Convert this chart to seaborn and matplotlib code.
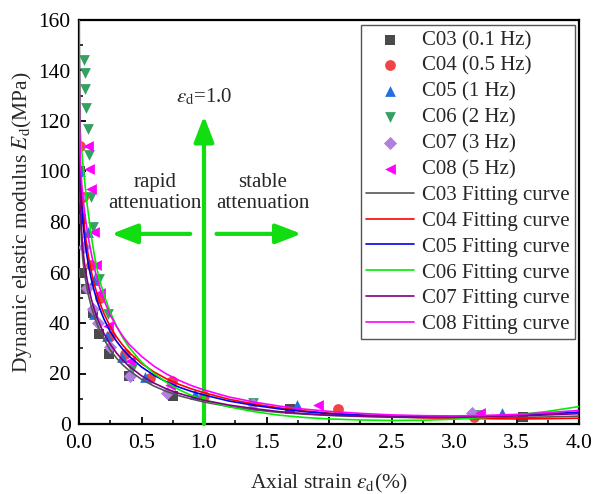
import matplotlib

matplotlib.use("Agg")

import matplotlib.pyplot as plt
import numpy as np
import seaborn as sns

# measured points (axial strain %, dynamic modulus MPa)
c03_x = [0.01, 0.016, 0.02, 0.055, 0.11, 0.16, 0.24, 0.40, 0.75, 1.69, 3.55]
c03_y = [100, 81, 60, 53.5, 44, 35.6, 27.7, 19, 11, 5.9, 2.8]
c04_x = [0.01, 0.03, 0.096, 0.17, 0.25, 0.37, 0.57, 0.74, 1.0, 2.07, 3.16]
c04_y = [110, 90, 63, 50, 35, 27.6, 18.3, 17, 11, 6, 2.8]
c05_x = [0.01, 0.07, 0.12, 0.12, 0.22, 0.34, 0.53, 0.93, 1.74, 3.38]
c05_y = [100, 76, 57, 43.6, 35, 26.7, 18.5, 11.9, 7.5, 4.4]
c06_x = [0.043, 0.045, 0.048, 0.056, 0.07, 0.083, 0.096, 0.11, 0.16, 0.23, 0.42, 1.39, 3.19]
c06_y = [144, 139, 132.5, 125, 117, 106.5, 90, 78, 57.5, 43.6, 21.6, 8.3, 3.5]
c07_x = [0.01, 0.04, 0.06, 0.115, 0.155, 0.25, 0.41, 0.70, 1.39, 3.14]
c07_y = [90, 70, 54, 45.4, 40, 30.5, 19.2, 12.2, 8, 4.4]
c08_x = [0.07, 0.083, 0.096, 0.12, 0.135, 0.17, 0.23, 0.41, 0.73, 1.91, 3.21]
c08_y = [110, 101, 93, 76, 63, 52, 39, 25, 15.4, 7.5, 4.4]

# fitting curves
fit_x = [0, 0.003, 0.006, 0.01, 0.015, 0.02, 0.03, 0.04, 0.05, 0.065, 0.08,
         0.1, 0.125, 0.15, 0.175, 0.2, 0.25, 0.3, 0.35, 0.4, 0.5, 0.6, 0.7,
         0.8, 0.9, 1.0, 1.2, 1.4, 1.6, 1.8, 2.0, 2.25, 2.5, 2.75, 3.0, 3.25,
         3.5, 3.75, 4.0]
fit_c03 = [165, 122, 99, 86, 78.6, 73.3, 65.3, 61.2, 57.8, 53.6, 50.1,
           46.2, 42.2, 38.9, 36.1, 33.6, 29.3, 26.1, 23.4, 21.2, 17.7, 15.0, 12.9,
           11.2, 9.9, 8.7, 6.9, 5.6, 4.6, 3.9, 3.4, 3.0, 2.7, 2.5, 2.4, 2.4,
           2.6, 2.8, 3.1]
fit_c04 = [165, 128, 110, 101, 95.9, 91.6, 84.8, 79.5, 75.1, 69.6, 65.1,
           60.0, 54.8, 50.5, 46.9, 43.7, 38.5, 34.5, 31.2, 28.4, 24.0, 20.6, 17.9,
           15.7, 13.9, 12.4, 9.8, 7.9, 6.4, 5.2, 4.3, 3.5, 2.9, 2.5, 2.3, 2.1,
           2.0, 2.1, 2.3]
fit_c05 = [165, 125, 107, 97, 91.6, 87.5, 80.6, 75.5, 71.3, 66.1, 61.8,
           57.0, 52.1, 48.0, 44.6, 41.5, 36.6, 32.8, 29.6, 26.9, 22.6, 19.3, 16.7,
           14.6, 12.9, 11.5, 9.1, 7.4, 6.0, 4.9, 4.1, 3.5, 3.1, 2.9, 2.9, 3.1,
           3.5, 4.0, 4.7]
fit_c06 = [165, 140, 124, 116, 112, 109, 103.5, 98.6, 93.9, 87.0, 81.4,
           73.8, 66.3, 60.1, 55.3, 51.1, 44.3, 38.8, 34.2, 30.4, 24.5, 20.0, 16.5,
           13.6, 11.3, 9.4, 6.8, 4.9, 3.5, 2.6, 2.0, 1.6, 1.4, 1.5, 1.9, 2.6,
           3.6, 5.0, 6.9]
fit_c07 = [165, 123, 101, 88.9, 82.5, 76.9, 69.5, 65.2, 61.6, 57.1, 53.4,
           49.2, 44.9, 41.4, 38.5, 35.8, 31.6, 28.1, 25.3, 22.9, 19.1, 16.2, 13.9,
           12.1, 10.7, 9.4, 7.5, 6.1, 4.9, 4.1, 3.5, 3.1, 2.8, 2.7, 2.7, 2.9,
           3.2, 3.6, 4.1]
fit_c08 = [165, 132, 115, 106, 101, 96.5, 90.5, 86.0, 82.0, 76.8, 72.3,
           67.2, 61.4, 56.6, 52.5, 49.0, 43.1, 38.6, 34.8, 31.6, 26.8, 22.9, 19.8,
           17.3, 15.2, 13.5, 10.7, 8.7, 7.1, 5.9, 5.0, 4.2, 3.6, 3.3, 3.2, 3.4,
           3.8, 4.5, 5.4]

point_labels = ["C03 (0.1 Hz)", "C04 (0.5 Hz)", "C05 (1 Hz)",
                "C06 (2 Hz)", "C07 (3 Hz)", "C08 (5 Hz)"]
fit_labels = ["C03 Fitting curve", "C04 Fitting curve", "C05 Fitting curve",
              "C06 Fitting curve", "C07 Fitting curve", "C08 Fitting curve"]

sns.set_theme(style="ticks")
plt.rcParams["font.family"] = ["Liberation Serif", "DejaVu Serif"]
plt.rcParams["mathtext.fontset"] = "stix"
plt.rcParams["xtick.direction"] = "in"
plt.rcParams["ytick.direction"] = "in"

fig = plt.figure(figsize=(5.93, 4.94), dpi=100)
ax = fig.add_axes([79 / 593, 70 / 494, 500 / 593, 404 / 494])

point_sets = [(c03_x, c03_y), (c04_x, c04_y), (c05_x, c05_y),
              (c06_x, c06_y), (c07_x, c07_y), (c08_x, c08_y)]
point_colors = ["#4a4a4a", "#ee4444", "#2270dd", "#34a062", "#b07fe0", "#ff00ff"]
point_markers = ["s", "o", "^", "v", "D", "<"]
point_sizes = [50, 60, 60, 60, 45, 60]

fit_sets = [fit_c03, fit_c04, fit_c05, fit_c06, fit_c07, fit_c08]
fit_colors = ["#555555", "#ff0000", "#0000ee", "#00ee00", "#800080", "#ff00ff"]

for (xs, ys), lab, col, mk, sz in zip(point_sets, point_labels, point_colors,
                                       point_markers, point_sizes):
    sns.scatterplot(x=xs, y=ys, marker=mk, color=col, s=sz, linewidth=0,
                    label=lab, ax=ax, zorder=3)

for ys, lab, col in zip(fit_sets, fit_labels, fit_colors):
    sns.lineplot(x=fit_x, y=ys, color=col, lw=1.2, label=lab, ax=ax, zorder=4)

# annotations
green = "#11dd11"
arrow_style = dict(arrowstyle="-|>,head_length=1.3,head_width=0.5",
                   color=green, lw=3, shrinkA=0, shrinkB=0)
ax.annotate("", xy=(1.0, 122), xytext=(1.0, 0), arrowprops=arrow_style)
ax.annotate("", xy=(0.26, 75.3), xytext=(0.89, 75.3), arrowprops=arrow_style)
ax.annotate("", xy=(1.78, 75.3), xytext=(1.10, 75.3), arrowprops=arrow_style)
ax.text(1.0, 129.5, r"$\varepsilon_{\mathrm{d}}$=1.0", ha="center", va="center", fontsize=15)
ax.text(0.61, 91.5, "rapid\nattenuation", ha="center", va="center", fontsize=15,
        linespacing=1.1)
ax.text(1.47, 91.5, "stable\nattenuation", ha="center", va="center", fontsize=15,
        linespacing=1.1)

ax.set_xlim(0, 4.0)
ax.set_ylim(0, 160)
ax.set_xticks(np.arange(0, 4.01, 0.5))
ax.set_xticks(np.arange(0, 4.01, 0.25), minor=True)
ax.set_yticks(np.arange(0, 161, 20))
ax.set_yticks(np.arange(0, 161, 10), minor=True)
ax.tick_params(axis="both", which="major", labelsize=15.5, length=5, width=1.3,
               color="black", labelcolor="black")
ax.tick_params(axis="x", which="major", pad=7)
ax.tick_params(axis="y", which="major", pad=6)
ax.tick_params(axis="both", which="minor", length=3, width=1.1, color="black")
ax.set_xlabel(r"Axial strain $\varepsilon_{\mathrm{d}}$(%)", fontsize=15.5, labelpad=14)
ax.set_ylabel(r"Dynamic elastic modulus $E_{\mathrm{d}}$(MPa)", fontsize=15.5, labelpad=3)
for sp in ax.spines.values():
    sp.set_linewidth(1.6)
    sp.set_color("black")

handles, labels = ax.get_legend_handles_labels()
order = [labels.index(l) for l in point_labels + fit_labels]
ax.legend([handles[i] for i in order], [labels[i] for i in order],
          loc="upper right", bbox_to_anchor=(0.996, 0.992), fontsize=15,
          frameon=True, fancybox=False, edgecolor="#555555", framealpha=1,
          handlelength=2.3, handletextpad=0.4, labelspacing=0.3,
          borderpad=0.25, borderaxespad=0.1)

fig.savefig("out.png", dpi=100)
